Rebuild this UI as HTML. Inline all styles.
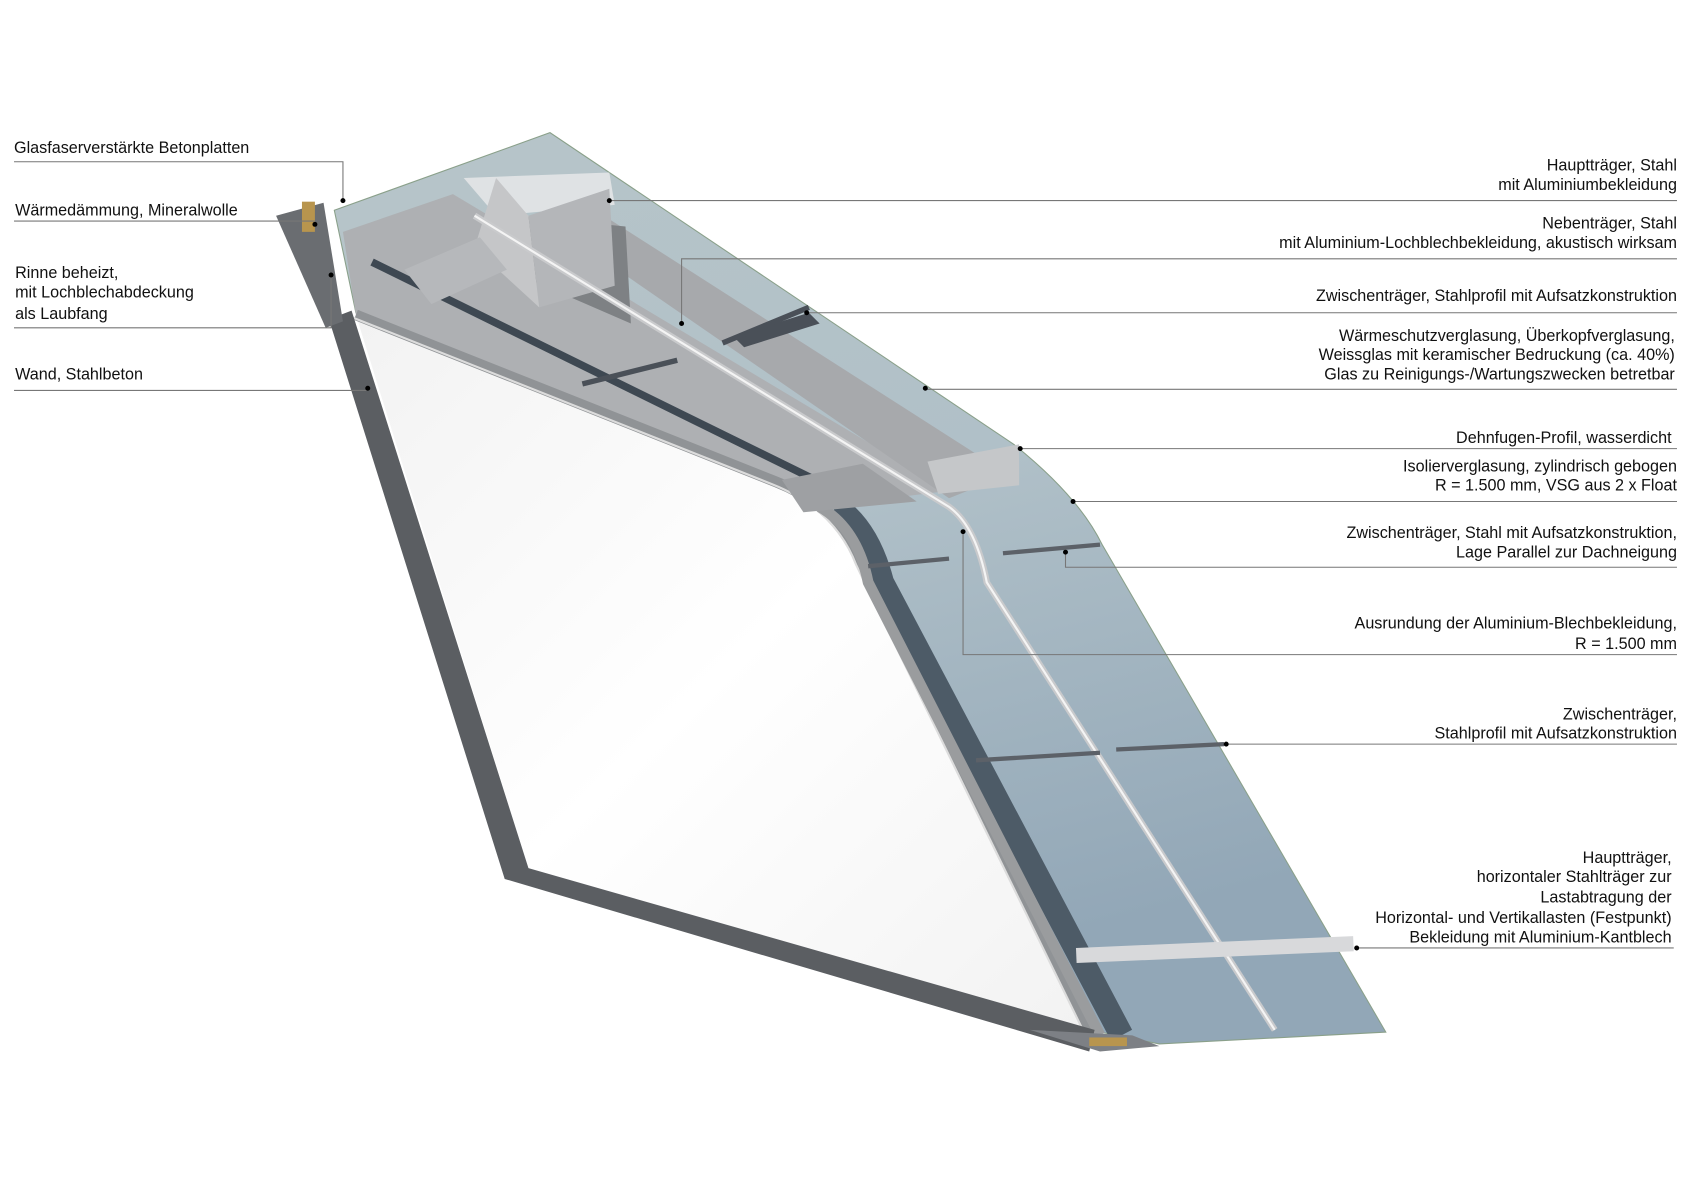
<!DOCTYPE html>
<html><head><meta charset="utf-8"><style>
html,body{margin:0;padding:0;background:#fff;}
svg{display:block;}
text{font-family:"Liberation Sans",Arial,sans-serif;font-size:15px;fill:#111;}
.r{text-anchor:end;}
.l{stroke:#777;stroke-width:1;fill:none;}
</style></head><body>
<svg width="1691" height="1200" viewBox="0 0 1568 1112.7" preserveAspectRatio="none" xmlns="http://www.w3.org/2000/svg">
<defs>
<linearGradient id="gl" x1="0" y1="0" x2="0.3" y2="1">
<stop offset="0" stop-color="#b7c5c9"/><stop offset="0.5" stop-color="#b0c0c8"/><stop offset="1" stop-color="#92a7b7"/>
</linearGradient>
<linearGradient id="wh" x1="0" y1="0" x2="1" y2="1">
<stop offset="0" stop-color="#f2f2f2"/><stop offset="0.5" stop-color="#ffffff"/><stop offset="1" stop-color="#f2f2f2"/>
</linearGradient>
</defs>
<!-- glass -->
<path d="M310,195 L510,123 L940,412 Q1000,460 1022,505 L1285,957 L1075,968 L1010,955 L800,520 Q780,470 720,445 L330,290 Z" fill="url(#gl)" stroke="#8aa08a" stroke-width="1"/>
<!-- gray cladding plate -->
<path d="M318,215 L420,180 L880,455 L760,470 L330,292 Z" fill="#aeb0b3"/>
<!-- Nebentraeger beam -->
<path d="M500,200 L560,200 L935,440 L880,462 Z" fill="#a7a9ac"/>
<path d="M680,312 L750,290 L760,300 L690,322 Z" fill="#4a5058"/>
<!-- inner white surface -->
<path d="M330,292 L720,447 Q780,470 800,520 L1010,955 L490,805 Z" fill="url(#wh)"/>
<path d="M330,292 L720,447 Q778,470 798,522 L1010,957" stroke="#909396" stroke-width="10" fill="none"/>
<path d="M326,294 L716,449 Q774,472 794,524 L1006,959" stroke="#dcdcdc" stroke-width="2" fill="none"/>
<!-- dark strip -->
<path d="M345,243 L760,447" stroke="#3e4852" stroke-width="7"/>
<path d="M775,470 Q805,490 818,540 L1040,960" stroke="#4d5b67" stroke-width="22" fill="none"/>
<path d="M760,470 Q795,490 805,540 L1020,960" stroke="#9a9c9e" stroke-width="10" fill="none"/>
<!-- perforated panel -->
<path d="M480,200 L580,210 L585,300 L470,250 Z" fill="#7e8184"/>
<!-- main box beam -->
<path d="M430,165 L565,160 L570,190 L460,200 Z" fill="#dfe2e4"/>
<path d="M490,200 L565,175 L570,265 L500,285 Z" fill="#b4b6b9"/>
<path d="M460,165 L490,200 L500,285 L440,230 Z" fill="#c5c6c8"/>
<!-- cross beam near wall -->
<path d="M375,250 L445,220 L470,250 L400,282 Z" fill="#b6b8bb"/>
<!-- lower box beam -->
<path d="M860,428 L945,412 L945,450 L870,458 Z" fill="#c5c7c9"/>
<path d="M725,445 L800,430 L850,465 L745,475 Z" fill="#9ea0a3"/>
<!-- rail -->
<path d="M440,200 L880,470 Q905,488 915,540 L1182,955" stroke="#c9cacc" stroke-width="6" fill="none"/>
<path d="M440,200 L880,470 Q905,488 915,540 L1182,955" stroke="#f4f4f4" stroke-width="2" fill="none"/>
<!-- cross bars -->
<path d="M670,318 L750,285" stroke="#4a5058" stroke-width="5"/>
<path d="M540,356 L628,334" stroke="#4a5058" stroke-width="5"/>
<path d="M805,525 L880,518 M930,513 L1020,505" stroke="#5c6168" stroke-width="4"/>
<path d="M905,705 L1020,698 M1035,695 L1135,690" stroke="#5c6168" stroke-width="4"/>
<path d="M998,886 L1255,875" stroke="#d8d9db" stroke-width="14"/>
<!-- wall -->
<path d="M305,296 L326,288 L490,805 L1015,955 L1010,975 L468,815 Z" fill="#5b5e62"/>
<path d="M256,200 L300,188 L318,298 L302,304 Z" fill="#6a6d71"/>
<rect x="280" y="187" width="12" height="28" fill="#b8954e"/>
<path d="M955,955 L1050,960 L1075,970 L1020,975 Z" fill="#7d8085"/>
<rect x="1010" y="962" width="35" height="8" fill="#b8954e"/>
<!-- leaders left -->
<path class="l" d="M13,150 L318,150 L318,185"/>
<path class="l" d="M13,205 L292,205"/>
<path class="l" d="M13,304 L307,304 L307,255"/>
<path class="l" d="M13,362 L340,362"/>
<g fill="#000"><circle cx="318" cy="186" r="2.3"/><circle cx="292" cy="208" r="2.3"/><circle cx="307" cy="255" r="2.3"/><circle cx="341" cy="360" r="2.3"/></g>
<text x="13" y="142">Glasfaserverstärkte Betonplatten</text>
<text x="14" y="200">Wärmedämmung, Mineralwolle</text>
<text x="14" y="258">Rinne beheizt,</text>
<text x="14" y="276">mit Lochblechabdeckung</text>
<text x="14" y="296">als Laubfang</text>
<text x="14" y="352">Wand, Stahlbeton</text>
<!-- leaders right -->
<path class="l" d="M565,186 L1555,186"/>
<path class="l" d="M632,300 L632,240 L1555,240"/>
<path class="l" d="M748,290 L1555,290"/>
<path class="l" d="M858,361 L1555,361"/>
<path class="l" d="M945,416 L1555,416"/>
<path class="l" d="M995,465 L1555,465"/>
<path class="l" d="M988,512 L988,526 L1555,526"/>
<path class="l" d="M893,493 L893,607 L1555,607"/>
<path class="l" d="M1137,690 L1555,690"/>
<path class="l" d="M1258,879 L1552,879"/>
<g fill="#000"><circle cx="565" cy="186" r="2.3"/><circle cx="632" cy="300" r="2.3"/><circle cx="748" cy="290" r="2.3"/><circle cx="858" cy="360" r="2.3"/><circle cx="946" cy="416" r="2.3"/><circle cx="995" cy="465" r="2.3"/><circle cx="988" cy="512" r="2.3"/><circle cx="893" cy="493" r="2.3"/><circle cx="1137" cy="690" r="2.3"/><circle cx="1258" cy="879" r="2.3"/></g>
<text class="r" x="1555" y="158">Hauptträger, Stahl</text>
<text class="r" x="1555" y="176">mit Aluminiumbekleidung</text>
<text class="r" x="1555" y="212">Nebenträger, Stahl</text>
<text class="r" x="1555" y="230">mit Aluminium-Lochblechbekleidung, akustisch wirksam</text>
<text class="r" x="1555" y="279">Zwischenträger, Stahlprofil mit Aufsatzkonstruktion</text>
<text class="r" x="1553" y="316">Wärmeschutzverglasung, Überkopfverglasung,</text>
<text class="r" x="1553" y="334">Weissglas mit keramischer Bedruckung (ca. 40%)</text>
<text class="r" x="1553" y="352">Glas zu Reinigungs-/Wartungszwecken betretbar</text>
<text class="r" x="1550" y="411">Dehnfugen-Profil, wasserdicht</text>
<text class="r" x="1555" y="437">Isolierverglasung, zylindrisch gebogen</text>
<text class="r" x="1555" y="455">R = 1.500 mm, VSG aus 2 x Float</text>
<text class="r" x="1555" y="499">Zwischenträger, Stahl mit Aufsatzkonstruktion,</text>
<text class="r" x="1555" y="517">Lage Parallel zur Dachneigung</text>
<text class="r" x="1555" y="583">Ausrundung der Aluminium-Blechbekleidung,</text>
<text class="r" x="1555" y="602">R = 1.500 mm</text>
<text class="r" x="1555" y="667">Zwischenträger,</text>
<text class="r" x="1555" y="685">Stahlprofil mit Aufsatzkonstruktion</text>
<text class="r" x="1550" y="800">Hauptträger,</text>
<text class="r" x="1550" y="818">horizontaler Stahlträger zur</text>
<text class="r" x="1550" y="837">Lastabtragung der</text>
<text class="r" x="1550" y="856">Horizontal- und Vertikallasten (Festpunkt)</text>
<text class="r" x="1550" y="874">Bekleidung mit Aluminium-Kantblech</text>
</svg>
</body></html>
